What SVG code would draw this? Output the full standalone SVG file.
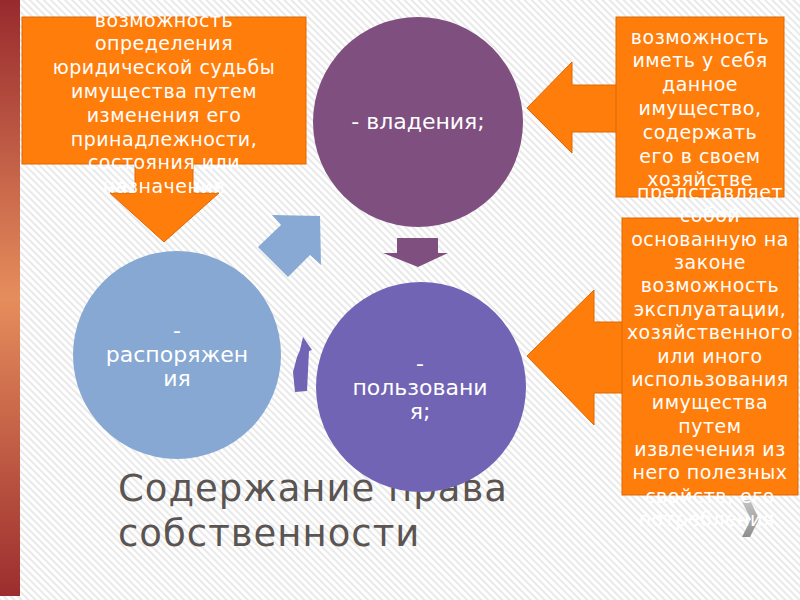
<svg xmlns="http://www.w3.org/2000/svg" width="800" height="600" viewBox="0 0 800 600">
<defs>
<pattern id="stripes" width="5" height="5" patternUnits="userSpaceOnUse" patternTransform="rotate(-45)">
<rect width="5" height="5" fill="#ffffff"/>
<line x1="1" y1="0" x2="1" y2="5" stroke="#e4e4e4" stroke-width="1.6"/>
</pattern>
<linearGradient id="bar" x1="0" y1="0" x2="0" y2="1">
<stop offset="0" stop-color="#982a2e"/>
<stop offset="0.5" stop-color="#e68d5c"/>
<stop offset="1" stop-color="#9c2d2e"/>
</linearGradient>
<linearGradient id="chev" x1="0" y1="0" x2="0" y2="1">
<stop offset="0" stop-color="#c4c4c4"/>
<stop offset="1" stop-color="#8e8e8e"/>
</linearGradient>
<style>
.box{fill:#ff7d0a;stroke:#e06800;stroke-width:1}
.cap{font-family:"DejaVu Sans",Verdana,sans-serif;font-size:19px;letter-spacing:0.5px;fill:#ffffff;text-anchor:middle}
.ctext{font-family:"DejaVu Sans",Verdana,sans-serif;font-size:22px;fill:#ffffff;text-anchor:middle}
.title{font-family:"DejaVu Sans",Verdana,sans-serif;font-size:37px;letter-spacing:1px;fill:#5a5452}
</style>
</defs>
<rect width="800" height="600" fill="url(#stripes)"/>
<rect x="0" y="0" width="20" height="596" fill="url(#bar)"/>

<g id="title">
<text class="title" x="118" y="501">Содержание права</text>
<text class="title" x="118" y="546">собственности</text>
</g>

<g id="connectors">
<polygon points="320,216 321,265 310,255 288,277 258,247 281,225 272,215" fill="#87a9d3"/>
<polygon points="397,238 438,238 438,253 448,253 418,267 383,253 397,253" fill="#7f4f7f"/>
<polygon points="303,337 312,350 309,351 307,391 295,392 293,372 297,357 300,350" fill="#7264b4"/>
</g>

<g id="node-vladenie">
<circle cx="418" cy="122" r="105" fill="#7f4f7f"/>
<text class="ctext" x="418" y="129">- владения;</text>
</g>
<g id="node-rasporyazhenie">
<circle cx="177" cy="355" r="104" fill="#86a8d2"/>
<text class="ctext" x="177" y="338">-</text>
<text class="ctext" x="177" y="362">распоряжен</text>
<text class="ctext" x="177" y="386">ия</text>
</g>
<g id="node-polzovanie">
<circle cx="421" cy="387" r="105" fill="#7264b4"/>
<text class="ctext" x="420" y="371">-</text>
<text class="ctext" x="420" y="395">пользовани</text>
<text class="ctext" x="420" y="419">я;</text>
</g>

<g id="callout-rasporyazhenie">
<polygon class="box" points="135,150 193,150 193,193 219,193 164,242 110,193 135,193"/>
<rect class="box" x="22" y="17" width="284" height="147"/>
<text class="cap" x="164" y="26.5">возможность</text>
<text class="cap" x="164" y="50.3">определения</text>
<text class="cap" x="164" y="74.1">юридической судьбы</text>
<text class="cap" x="164" y="97.9">имущества путем</text>
<text class="cap" x="164" y="121.7">изменения его</text>
<text class="cap" x="164" y="145.5">принадлежности,</text>
<text class="cap" x="164" y="169.3">состояния или</text>
<text class="cap" x="164" y="193.1">назначения</text>
</g>

<g id="callout-vladenie">
<polygon class="box" points="630,85 572,85 572,62 527,108 572,153 572,132 630,132"/>
<rect class="box" x="616" y="17" width="168" height="180"/>
<text class="cap" x="700" y="43.5">возможность</text>
<text class="cap" x="700" y="67.3">иметь у себя</text>
<text class="cap" x="700" y="91.1">данное</text>
<text class="cap" x="700" y="114.9">имущество,</text>
<text class="cap" x="700" y="138.7">содержать</text>
<text class="cap" x="700" y="162.5">его в своем</text>
<text class="cap" x="700" y="186.3">хозяйстве</text>
</g>

<g id="nav">
<polygon points="741,500 750,500 759,519 750,537 742,537 751,519" fill="url(#chev)"/>
</g>

<g id="callout-polzovanie">
<polygon class="box" points="640,322 594,322 594,290 527,356 594,425 594,393 640,393"/>
<rect class="box" x="622" y="218" width="176" height="277"/>
<text class="cap" x="710" y="199">представляет</text>
<text class="cap" x="710" y="222.4">собой</text>
<text class="cap" x="710" y="245.7">основанную на</text>
<text class="cap" x="710" y="269">законе</text>
<text class="cap" x="710" y="292.4">возможность</text>
<text class="cap" x="710" y="315.8">эксплуатации,</text>
<text class="cap" x="710" y="339.1">хозяйственного</text>
<text class="cap" x="710" y="362.5">или иного</text>
<text class="cap" x="710" y="385.8">использования</text>
<text class="cap" x="710" y="409.2">имущества</text>
<text class="cap" x="710" y="432.5">путем</text>
<text class="cap" x="710" y="455.9">извлечения из</text>
<text class="cap" x="710" y="479.2">него полезных</text>
<text class="cap" x="710" y="502.6">свойств, его</text>
<text class="cap" x="710" y="525.9">потребления.</text>
</g>
</svg>
